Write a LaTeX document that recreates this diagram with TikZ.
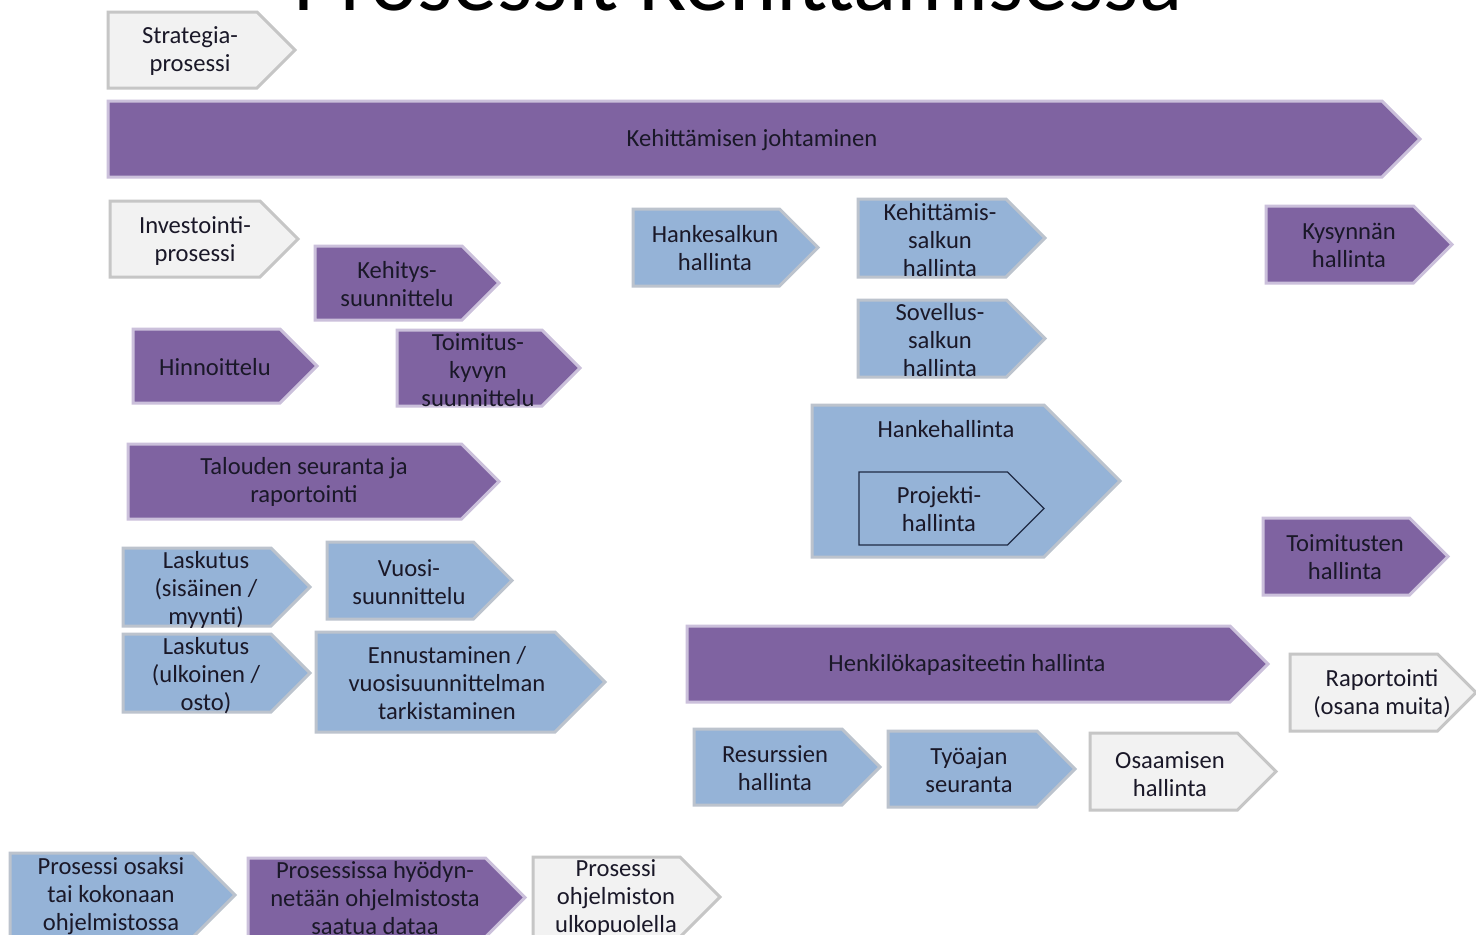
\documentclass[tikz,border=0pt]{standalone}
\usepackage{fontspec}
\setmainfont{Carlito}
\definecolor{pfill}{HTML}{7F63A1}
\definecolor{pline}{HTML}{CBC0DB}
\definecolor{bfill}{HTML}{95B3D7}
\definecolor{bline}{HTML}{BCC3CD}
\definecolor{gfill}{HTML}{F2F2F2}
\definecolor{gline}{HTML}{C6C6C6}
\definecolor{ink}{HTML}{1A1828}
\definecolor{projline}{HTML}{1F2B45}
\tikzset{
  purp/.style={fill=pfill,draw=pline,line width=1.5pt},
  blu/.style={fill=bfill,draw=bline,line width=1.5pt},
  gry/.style={fill=gfill,draw=gline,line width=1.5pt},
  projbox/.style={fill=bfill,draw=projline,line width=0.6pt},
  txt/.style={text=ink,align=center,inner sep=0pt,font=\fontsize{12.3}{14}\selectfont},
}
\newcommand\chev[9]{%
  \path[#2] (#3,#4) -- ({#5-(#6-#4)/2},#4) -- (#5,{(#4+#6)/2}) -- ({#5-(#6-#4)/2},#6) -- (#3,#6) -- cycle;
  \node[txt] (#1) at (#7,#8) {#9};
}
\begin{document}
\begin{tikzpicture}[x=0.5pt,y=-0.5pt]
\useasboundingbox (0,0) rectangle (1476,934);
\begin{scope}
\clip (0,0) rectangle (1476,934);
\fill[white] (0,0) rectangle (1476,934);
\node[anchor=base,text=black,inner sep=0pt,font=\fontsize{45}{54}\selectfont] (title) at (738,10) {Prosessit Kehittämisessä};
\chev{strat}{gry}{108}{12}{295}{88}{190}{51}{Strategia-\\prosessi}
\chev{kj}{purp}{108}{101}{1420}{177}{752}{140}{Kehittämisen johtaminen}
\chev{inv}{gry}{110}{201}{298}{277}{195}{241}{Investointi-\\prosessi}
\chev{kehsuun}{purp}{315}{246}{499}{320}{397}{284}{Kehitys-\\suunnittelu}
\chev{hinn}{purp}{133}{329}{317}{403}{215}{367}{Hinnoittelu}
\chev{toimkyky}{purp}{397}{330}{580}{406}{478}{370}{Toimitus-\\kyvyn\\suunnittelu}
\chev{talous}{purp}{128}{444}{499}{519}{304}{482}{Talouden seuranta ja\\raportointi}
\chev{laskA}{blu}{123}{548}{310}{626}{206}{590}{Laskutus\\(sisäinen /\\myynti)}
\chev{vuosi}{blu}{327}{542}{512}{619}{409}{582}{Vuosi-\\suunnittelu}
\chev{laskB}{blu}{123}{634}{310}{712}{206}{676}{Laskutus\\(ulkoinen /\\osto)}
\chev{ennust}{blu}{316}{632}{605}{732}{447}{683}{Ennustaminen /\\vuosisuunnittelman\\tarkistaminen}
\chev{hsalkku}{blu}{633}{209}{818}{286}{715}{248}{Hankesalkun\\hallinta}
\chev{ksalkku}{blu}{858}{199}{1045}{277}{940}{240}{Kehittämis-\\salkun\\hallinta}
\chev{ssalkku}{blu}{858}{300}{1045}{377}{940}{340}{Sovellus-\\salkun\\hallinta}
\chev{hanke}{blu}{812}{405}{1120}{557}{946}{429}{Hankehallinta}
\chev{proj}{projbox}{859}{472}{1044}{545}{939}{509}{Projekti-\\hallinta}
\chev{kysynta}{purp}{1266}{206}{1452}{283}{1349}{245}{Kysynnän\\hallinta}
\chev{toimit}{purp}{1263}{518}{1448}{595}{1345}{557}{Toimitusten\\hallinta}
\chev{henkilo}{purp}{687}{626}{1268}{702}{967}{665}{Henkilökapasiteetin hallinta}
\chev{raport}{gry}{1290}{654}{1476}{731}{1382}{694}{Raportointi\\(osana muita)}
\chev{resurssi}{blu}{694}{729}{880}{805}{775}{768}{Resurssien\\hallinta}
\chev{tyoaika}{blu}{888}{731}{1075}{807}{969}{770}{Työajan\\seuranta}
\chev{osaaminen}{gry}{1090}{733}{1276}{810}{1170}{774}{Osaamisen\\hallinta}
\chev{legA}{blu}{10}{853}{235}{937}{111}{896}{Prosessi osaksi\\tai kokonaan\\ohjelmistossa}
\chev{legB}{purp}{248}{858}{525}{937}{375}{898}{Prosessissa hyödyn-\\netään ohjelmistosta\\saatua dataa}
\chev{legC}{gry}{533}{857}{720}{937}{616}{898}{Prosessi\\ohjelmiston\\ulkopuolella}
\end{scope}
\end{tikzpicture}
\end{document}
